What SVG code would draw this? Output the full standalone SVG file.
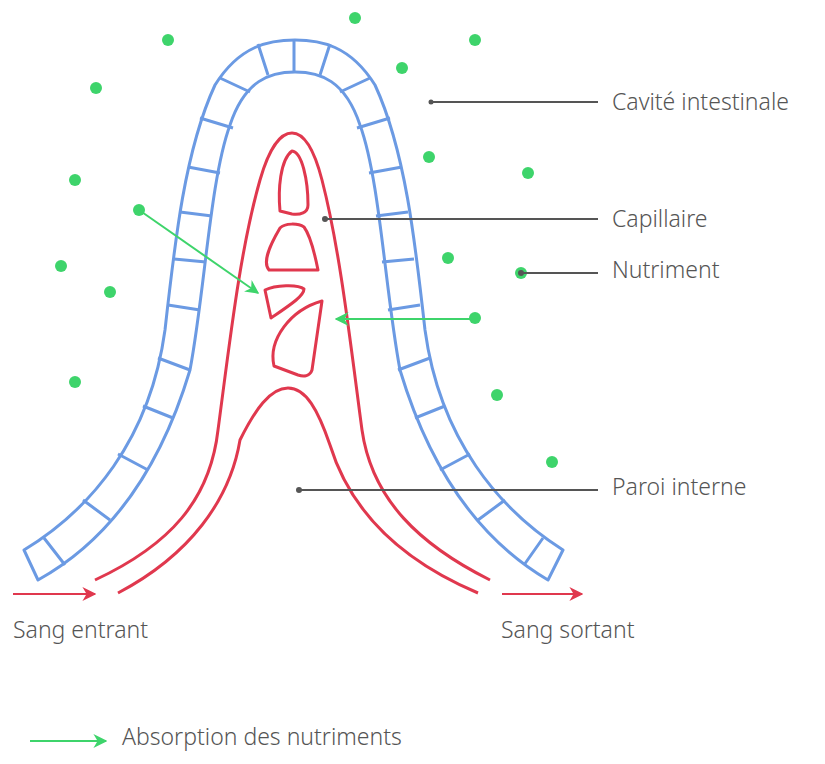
<svg xmlns="http://www.w3.org/2000/svg" width="825" height="764" viewBox="0 0 825 764">
<style>
.b{fill:none;stroke:#6b9ae3;stroke-width:3;stroke-linejoin:round}
.r{fill:none;stroke:#e0384e;stroke-width:3;stroke-linejoin:round}
.d{fill:#3ed46b}
.l{stroke:#555;stroke-width:2;fill:none}
.g{stroke:#3ed46b;stroke-width:2;fill:none}
.ra{stroke:#e0384e;stroke-width:2;fill:none}
text{font-family:"Noto Sans","Liberation Sans",sans-serif;font-size:23px;fill:#555;font-weight:300}
</style>
<defs>
<marker id="ag" viewBox="0 0 10 10" refX="9" refY="5" markerWidth="7" markerHeight="7" orient="auto"><path d="M0,0 L10,5 L0,10 L3,5 z" fill="#3ed46b"/></marker>
<marker id="ar" viewBox="0 0 10 10" refX="9" refY="5" markerWidth="7" markerHeight="7" orient="auto"><path d="M0,0 L10,5 L0,10 L3,5 z" fill="#e0384e"/></marker>
</defs>
<g id="villosite">
<path class="b" d="M24,550 C90,510 150,440 165,330 C175,240 185,150 215,85 C240,45 270,40 295,40 C320,40 350,45 375,85 C405,150 415,240 425,330 C440,440 500,510 563,550 L548,580 C480,540 430,470 400,370 C385,290 380,180 360,125 C345,80 320,72 295,72 C270,72 245,80 230,125 C210,180 205,290 190,370 C160,470 110,540 38,580 Z"/>
<path class="b" d="M294,40V72M258,44L268,75M330,44L320,75M220,78L250,92M370,78L340,92M200,118L233,128M390,118L357,128M188,167L220,173M402,167L369,173M180,212L212,216M408,212L376,216M174,259L206,262M414,259L382,262M168,305L200,310M420,305L388,310M158,358L190,370M430,358L398,370M143,406L173,418M445,406L415,418M118,454L148,470M470,454L440,470M83,500L110,520M505,500L478,520M44,538L65,565M543,538L524,565"/>
</g>
<g id="capillaire">
<path class="r" d="M95,580 C170,545 210,500 218,430 C230,340 240,250 260,180 C270,145 282,133 292,133 C302,133 313,145 322,180 C340,250 350,340 362,430 C372,500 420,545 490,580"/>
<path class="r" d="M118,593 C190,555 230,500 240,440 C255,410 270,388 288,388 C306,388 318,410 330,445 C350,510 400,560 478,593"/>
<path class="r" d="M280,211 C278,190 280,160 292,151 C302,152 308,180 308,205 C308,213 300,215 292,214 Z"/>
<path class="r" d="M269,270 C262,262 270,245 280,228 C285,223 298,223 304,227 C310,235 315,255 318,270 Z"/>
<path class="r" d="M265,290 C275,285 298,284 304,289 C304,296 290,305 271,318 Z"/>
<path class="r" d="M322,301 L312,370 C310,376 304,377 298,375 L274,366 C268,340 290,310 322,301 Z"/>
</g>
<g id="nutriments">
<circle class="d" cx="168" cy="40" r="6"/><circle class="d" cx="355" cy="18" r="6"/><circle class="d" cx="475" cy="40" r="6"/>
<circle class="d" cx="96" cy="88" r="6"/><circle class="d" cx="402" cy="68" r="6"/><circle class="d" cx="429" cy="157" r="6"/>
<circle class="d" cx="528" cy="173" r="6"/><circle class="d" cx="75" cy="180" r="6"/><circle class="d" cx="139" cy="210" r="6"/>
<circle class="d" cx="61" cy="266" r="6"/><circle class="d" cx="110" cy="292" r="6"/><circle class="d" cx="448" cy="258" r="6"/>
<circle class="d" cx="521" cy="273" r="6"/><circle class="d" cx="475" cy="318" r="6"/><circle class="d" cx="75" cy="382" r="6"/>
<circle class="d" cx="497" cy="395" r="6"/><circle class="d" cx="552" cy="462" r="6"/>
</g>
<g id="connectors">
<path class="g" d="M139,210L258,293" marker-end="url(#ag)"/>
<path class="g" d="M475,319H336" marker-end="url(#ag)"/>
<path class="ra" d="M13,594H95" marker-end="url(#ar)"/>
<path class="ra" d="M502,594H582" marker-end="url(#ar)"/>
<path class="g" d="M30,741H106" marker-end="url(#ag)"/>
<path class="l" d="M431,102H598M325,219H598M521,273H598M299,490H598"/>
<circle cx="431" cy="102" r="2.5" fill="#555"/><circle cx="325" cy="219" r="3" fill="#555"/><circle cx="521" cy="273" r="3" fill="#555"/><circle cx="299" cy="490" r="3" fill="#555"/>
</g>
<g id="labels">
<text x="612" y="110">Cavité intestinale</text>
<text x="612" y="227">Capillaire</text>
<text x="612" y="278">Nutriment</text>
<text x="612" y="495">Paroi interne</text>
<text x="13" y="638">Sang entrant</text>
<text x="501" y="638">Sang sortant</text>
<text x="122" y="745">Absorption des nutriments</text>
</g>
</svg>
